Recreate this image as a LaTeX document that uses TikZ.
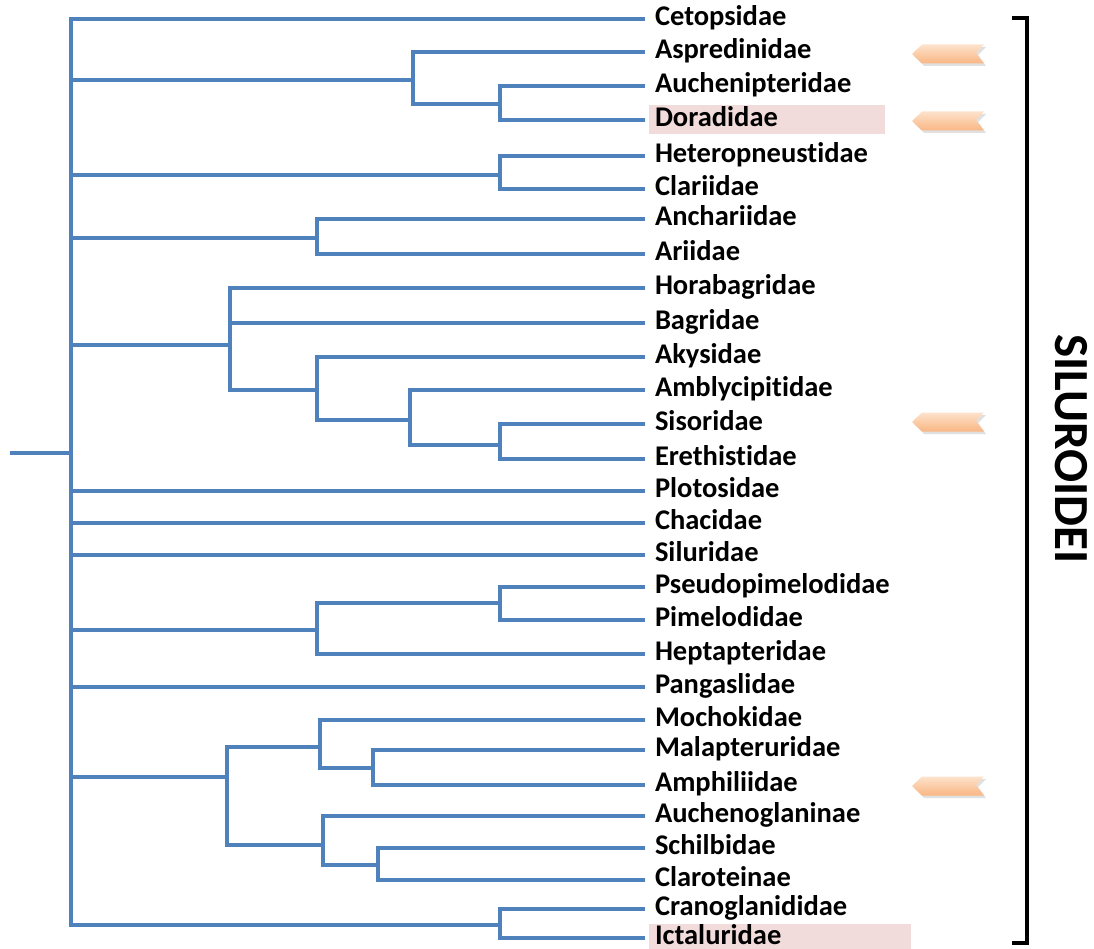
\documentclass[tikz,border=0pt]{standalone}
\usepackage{fontspec}
\setmainfont{Carlito}[Ligatures=NoCommon]
\usepackage{tikz}
\usetikzlibrary{calc}
\definecolor{treeblue}{RGB}{79,129,189}
\definecolor{hlpink}{RGB}{242,220,219}
\definecolor{chevtop}{RGB}{253,226,204}
\definecolor{chevbot}{RGB}{249,182,130}
\tikzstyle{branch}=[draw=treeblue,line width=3.6pt]
\tikzstyle{fam}=[anchor=west,font=\bfseries\fontsize{28.5}{30}\selectfont,inner xsep=6pt,outer xsep=4pt,inner ysep=3pt,outer ysep=0pt,text height=18pt,text depth=5pt]
\tikzstyle{marked}=[fill=hlpink,align=left]
\begin{document}
\begin{tikzpicture}[x=1pt,y=-1pt]
\useasboundingbox (0,0) rectangle (1094,949);
% leaves
\node[fam] (cetop) at (645,19) {Cetopsidae};
\node[fam] (aspre) at (645,52) {Aspredinidae};
\node[fam] (auche) at (645,86) {Auchenipteridae};
\node[fam,marked,text width=224pt] (dora) at (645,120) {Doradidae};
\node[fam] (hetero) at (645,156) {Heteropneustidae};
\node[fam] (clari) at (645,189) {Clariidae};
\node[fam] (anchar) at (645,219) {Anchariidae};
\node[fam] (arii) at (645,254) {Ariidae};
\node[fam] (horab) at (645,288) {Horabagridae};
\node[fam] (bagri) at (645,323) {Bagridae};
\node[fam] (akys) at (645,357) {Akysidae};
\node[fam] (ambly) at (645,390) {Amblycipitidae};
\node[fam] (sisor) at (645,424) {Sisoridae};
\node[fam] (ereth) at (645,459) {Erethistidae};
\node[fam] (ploto) at (645,491) {Plotosidae};
\node[fam] (chaci) at (645,523) {Chacidae};
\node[fam] (silur) at (645,555) {Siluridae};
\node[fam] (pseudo) at (645,587) {Pseudopimelodidae};
\node[fam] (pimel) at (645,620) {Pimelodidae};
\node[fam] (hepta) at (645,654) {Heptapteridae};
\node[fam] (panga) at (645,687) {Pangaslidae};
\node[fam] (mocho) at (645,720) {Mochokidae};
\node[fam] (malap) at (645,750) {Malapteruridae};
\node[fam] (amphi) at (645,785) {Amphiliidae};
\node[fam] (auchg) at (645,816) {Auchenoglaninae};
\node[fam] (schil) at (645,848) {Schilbidae};
\node[fam] (clarot) at (645,880) {Claroteinae};
\node[fam] (crano) at (645,909) {Cranoglanididae};
\node[fam,marked,text width=250pt] (ictal) at (645,938) {Ictaluridae};
% junctions
\coordinate (stem) at (10,453);
\coordinate (root) at (71,453);
\coordinate (jA) at (413,80);
\coordinate (jA1) at (500,104);
\coordinate (jB) at (500,175);
\coordinate (jC) at (317,238);
\coordinate (jD) at (230,345);
\coordinate (jD1) at (317,390);
\coordinate (jD11) at (410,420);
\coordinate (jD111) at (500,445);
\coordinate (jE) at (317,630);
\coordinate (jE1) at (500,603);
\coordinate (jF) at (227,777);
\coordinate (jF1) at (320,747);
\coordinate (jF11) at (373,768);
\coordinate (jF2) at (323,845);
\coordinate (jF21) at (378,865);
\coordinate (jG) at (500,925);
% branches
\draw[branch] (stem) -- (root);
\draw[branch] (root) |- (cetop.west) (root) |- (jA) (root) |- (jB) (root) |- (jC) (root) |- (jD)
  (root) |- (ploto.west) (root) |- (chaci.west) (root) |- (silur.west) (root) |- (jE)
  (root) |- (panga.west) (root) |- (jF) (root) |- (jG);
\draw[branch] (jA) |- (aspre.west) (jA) |- (jA1) (jA1) |- (auche.west) (jA1) |- (dora.west);
\draw[branch] (jB) |- (hetero.west) (jB) |- (clari.west);
\draw[branch] (jC) |- (anchar.west) (jC) |- (arii.west);
\draw[branch] (jD) |- (horab.west) (jD) |- (bagri.west) (jD) |- (jD1);
\draw[branch] (jD1) |- (akys.west) (jD1) |- (jD11) (jD11) |- (ambly.west) (jD11) |- (jD111);
\draw[branch] (jD111) |- (sisor.west) (jD111) |- (ereth.west);
\draw[branch] (jE) |- (jE1) (jE) |- (hepta.west) (jE1) |- (pseudo.west) (jE1) |- (pimel.west);
\draw[branch] (jF) |- (jF1) (jF) |- (jF2) (jF1) |- (mocho.west) (jF1) |- (jF11);
\draw[branch] (jF11) |- (malap.west) (jF11) |- (amphi.west);
\draw[branch] (jF2) |- (auchg.west) (jF2) |- (jF21) (jF21) |- (schil.west) (jF21) |- (clarot.west);
\draw[branch] (jG) |- (crano.west) (jG) |- (ictal.west);
% markers
\foreach \y in {54,121,422,786}{
  \fill[black,opacity=0.12] (914,\y+2) -- (924,\y-7) -- (986,\y-7) -- (978,\y+1) -- (986,\y+12) -- (924,\y+12) -- cycle;
  \shade[top color=chevtop,bottom color=chevbot] (912,\y) -- (922,\y-9.5) -- (984,\y-9.5) -- (976,\y-1) -- (984,\y+9.5) -- (922,\y+9.5) -- cycle;
}
% bracket
\draw[line width=3.5pt] (1012,18) -- (1027,18) -- (1027,943) -- (1012,943);
\node[rotate=-90,font=\bfseries\fontsize{49}{51}\selectfont,inner sep=0pt] (subord) at (1071,449) {SILUROIDEI};
\end{tikzpicture}
\end{document}
